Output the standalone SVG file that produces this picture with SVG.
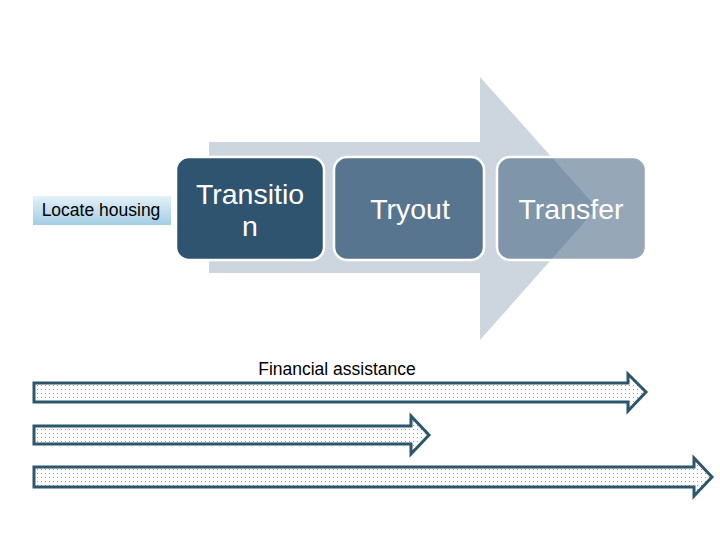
<svg xmlns="http://www.w3.org/2000/svg" width="720" height="540" viewBox="0 0 720 540">
<defs>
<linearGradient id="lh" x1="0" y1="0" x2="0" y2="1">
<stop offset="0" stop-color="#E4F1F8"/>
<stop offset="1" stop-color="#A3CDE3"/>
</linearGradient>
<pattern id="dots" width="4" height="4" patternUnits="userSpaceOnUse">
<rect width="4" height="4" fill="#FFFFFF"/>
<rect x="1" y="1" width="1" height="1" fill="#8E989E"/>
</pattern>
<style>
.box{stroke:#FFFFFF;stroke-width:2.5}
.wt{font-family:"Liberation Sans",Arial,sans-serif;font-size:28.5px;fill:#FFFFFF;text-anchor:middle}
.bt{font-family:"Liberation Sans",Arial,sans-serif;font-size:17.5px;fill:#000000;text-anchor:middle}
.da{fill:url(#dots);stroke:#2B566B;stroke-width:3;stroke-linejoin:miter}
</style>
</defs>
<rect width="720" height="540" fill="#FFFFFF"/>
<g id="bigArrow">
<path d="M209 142 H480 V77 L597 208 L480 340 V273 H209 Z" fill="#CDD6DF"/>
</g>
<g id="locate">
<rect x="33" y="196" width="138" height="29" fill="url(#lh)"/>
<text x="101" y="216" class="bt">Locate housing</text>
</g>
<g id="transition">
<rect x="176" y="157" width="148" height="103" rx="13" class="box" fill="#2F5470"/>
<text x="250" y="204" class="wt">Transitio</text>
<text x="250" y="236" class="wt">n</text>
</g>
<g id="tryout">
<rect x="334" y="157" width="150" height="103" rx="13" class="box" fill="#587590"/>
<text x="410" y="219" class="wt">Tryout</text>
</g>
<g id="transfer">
<rect x="497" y="157" width="149" height="103" rx="13" class="box" fill="#40607D" fill-opacity="0.55"/>
<text x="571" y="219" class="wt">Transfer</text>
</g>
<text x="337" y="375" class="bt">Financial assistance</text>
<g id="connectors">
<path class="da" d="M34 383 H628 V374 L646 392 L628 411 V402 H34 Z"/>
<path class="da" d="M34 426 H411 V416 L429 435 L411 454 V444 H34 Z"/>
<path class="da" d="M34 467 H694 V458 L712 477 L694 496 V487 H34 Z"/>
</g>
</svg>
